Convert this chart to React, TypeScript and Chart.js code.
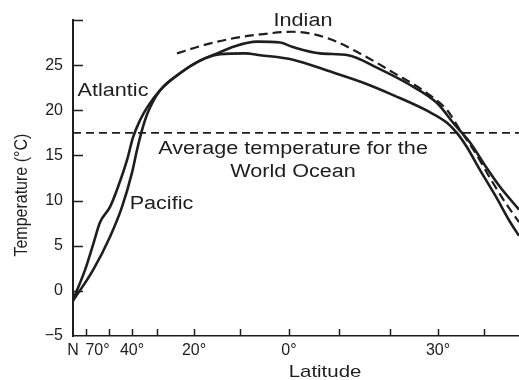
import React, { useEffect, useRef } from "react";
import { Chart, registerables } from "chart.js";

Chart.register(...registerables);

// Uneven latitude scale of the original figure: latitude knots and relative axis distance
const LAT_KNOTS = [90, 80, 60, 40, 30, 20, 10, 0, -10, -20, -30, -40, -50];
const LAT_AXIS_UNITS = [0, 13, 36, 59, 84, 121, 167, 216, 266, 317, 365, 411, 457];
const LAT_START = 90;
const LAT_END = -47.6;

const X_TICK_MARKS = [80, 60, 40, 30, 20, 10, 0, -10, -20, -30, -40];
const X_LABEL_LATS = [90, 70, 40, 20, 0, -30];
const X_LABELS = ["N", "70°", "40°", "20°", "0°", "30°"];

const Y_MIN = -5;
const Y_MAX = 30;
const Y_STEP = 5;

const ATLANTIC_LAT = [90, 80.8, 73.9, 67.8, 59.1, 52.2, 44.3, 39.6, 36.8, 34, 29.2, 23.8, 18.7, 14.3, 9.0, 5.9, -0.8, -7.6, -14.5, -21.0, -27.9, -32.0, -34.1, -36.3, -39.1, -42.4, -45.7, -47.6];
const ATLANTIC_TEMP = [-1.0, 2.3, 5.1, 7.6, 9.3, 11.5, 14.5, 17.0, 18.9, 20.3, 22.2, 24.1, 25.5, 26.2, 26.3, 26.1, 25.6, 24.4, 23.1, 21.6, 19.9, 18.6, 17.5, 15.9, 13.4, 10.6, 7.6, 6.1];

const PACIFIC_LAT = [90, 73.9, 59.1, 48.7, 40, 38, 36, 33.6, 29.2, 23.8, 18.7, 15.4, 11.1, 6.5, 1.8, -0.8, -6.2, -11.8, -17.5, -24.2, -29.8, -33.3, -37.0, -40.2, -43.5, -47.6];
const PACIFIC_TEMP = [-1.1, 2.3, 6.0, 9.3, 13.1, 15.6, 17.8, 19.8, 22.2, 24.1, 25.5, 26.2, 27.1, 27.6, 27.5, 27.0, 26.3, 26.1, 24.7, 22.8, 20.8, 18.6, 16.4, 13.9, 11.5, 9.0];

const INDIAN_LAT = [24.6, 18.7, 12.2, 5.9, -0.8, -7.6, -14.1, -20.6, -27.7, -32.0, -34.8, -38.0, -41.3, -44.6, -47.6];
const INDIAN_TEMP = [26.3, 27.1, 27.9, 28.4, 28.7, 28.0, 26.3, 24.2, 21.9, 20.0, 17.8, 15.4, 12.5, 9.8, 7.6];

const WORLD_AVERAGE_TEMP = 17.5;

const NOTE_TEXTS = ["Indian", "Atlantic", "Pacific", "Average temperature for the", "World Ocean"];
const NOTE_LATS = [-2.8, 56.5, 28.8, -0.8, -0.8];
const NOTE_TEMPS = [29.3, 21.6, 9.1, 15.2, 12.6];

const X_TITLE = "Latitude";
const X_TITLE_LAT = -7.2;
const Y_TITLE = "Temperature (°C)";
const Y_TITLE_TEMP = 10.6;

const FONT = '"Liberation Sans", Arial, Helvetica, sans-serif';
const INK = "#1e1e1e";
const TEXT_STRETCH = 1.2;

function warp(lat: number): number {
  const n = LAT_KNOTS.length;
  for (let i = 0; i < n - 1; i++) {
    const a = LAT_KNOTS[i];
    const b = LAT_KNOTS[i + 1];
    if (lat <= a && lat >= b) {
      const t = (a - lat) / (a - b);
      return LAT_AXIS_UNITS[i] + t * (LAT_AXIS_UNITS[i + 1] - LAT_AXIS_UNITS[i]);
    }
  }
  if (lat > LAT_KNOTS[0]) return LAT_AXIS_UNITS[0];
  const a = LAT_KNOTS[n - 2], b = LAT_KNOTS[n - 1];
  const t = (a - lat) / (a - b);
  return LAT_AXIS_UNITS[n - 2] + t * (LAT_AXIS_UNITS[n - 1] - LAT_AXIS_UNITS[n - 2]);
}

function toPoints(lats: number[], temps: number[]) {
  return lats.map((lat, i) => ({ x: warp(lat), y: temps[i] }));
}

const overlayPlugin = {
  id: "figureOverlay",
  afterDraw(chart: any) {
    const { ctx, chartArea } = chart;
    const xs = chart.scales.x;
    const ys = chart.scales.y;
    ctx.save();
    ctx.strokeStyle = INK;
    ctx.lineWidth = 1.5;
    // inward tick marks on y axis
    for (let v = Y_MIN + Y_STEP; v <= Y_MAX; v += Y_STEP) {
      const y = Math.round(ys.getPixelForValue(v)) + 0.5;
      ctx.beginPath();
      ctx.moveTo(chartArea.left, y);
      ctx.lineTo(chartArea.left + 10, y);
      ctx.stroke();
    }
    // inward tick marks on x axis
    for (const lat of X_TICK_MARKS) {
      const x = Math.round(xs.getPixelForValue(warp(lat))) + 0.5;
      ctx.beginPath();
      ctx.moveTo(x, chartArea.bottom);
      ctx.lineTo(x, chartArea.bottom - 7);
      ctx.stroke();
    }
    ctx.fillStyle = INK;
    ctx.textAlign = "center";
    ctx.textBaseline = "alphabetic";
    ctx.font = `18px ${FONT}`;
    NOTE_TEXTS.forEach((txt, i) => {
      const x = xs.getPixelForValue(warp(NOTE_LATS[i]));
      const y = ys.getPixelForValue(NOTE_TEMPS[i]);
      ctx.save();
      ctx.translate(x, y);
      ctx.scale(TEXT_STRETCH, 1);
      ctx.fillText(txt, 0, 0);
      ctx.restore();
    });
    // x axis title
    ctx.font = `17px ${FONT}`;
    ctx.save();
    ctx.translate(xs.getPixelForValue(warp(X_TITLE_LAT)), chart.height - 3);
    ctx.scale(TEXT_STRETCH, 1);
    ctx.fillText(X_TITLE, 0, 0);
    ctx.restore();
    // y axis title
    ctx.font = `16px ${FONT}`;
    ctx.save();
    ctx.translate(27, ys.getPixelForValue(Y_TITLE_TEMP));
    ctx.rotate(-Math.PI / 2);
    ctx.scale(1, TEXT_STRETCH);
    ctx.fillText(Y_TITLE, 0, 0);
    ctx.restore();
    ctx.restore();
  },
};

export default function App() {
  const canvasRef = useRef<HTMLCanvasElement | null>(null);

  useEffect(() => {
    document.body.style.margin = "0";
    const canvas = canvasRef.current;
    if (!canvas) return;
    const solid = {
      borderColor: INK,
      borderWidth: 2.6,
      pointRadius: 0,
      fill: false,
      cubicInterpolationMode: "monotone" as const,
    };
    const chart = new Chart(canvas, {
      type: "line",
      data: {
        datasets: [
          { label: "Atlantic", data: toPoints(ATLANTIC_LAT, ATLANTIC_TEMP), ...solid },
          { label: "Pacific", data: toPoints(PACIFIC_LAT, PACIFIC_TEMP), ...solid },
          {
            label: "Indian",
            data: toPoints(INDIAN_LAT, INDIAN_TEMP),
            ...solid,
            borderWidth: 2.2,
            borderDash: [9, 5],
          },
          {
            label: "World Ocean average",
            data: [
              { x: warp(LAT_START), y: WORLD_AVERAGE_TEMP },
              { x: warp(LAT_END), y: WORLD_AVERAGE_TEMP },
            ],
            borderColor: INK,
            borderWidth: 1.6,
            borderDash: [8, 5],
            pointRadius: 0,
            fill: false,
          },
        ],
      },
      options: {
        animation: false,
        responsive: true,
        maintainAspectRatio: false,
        layout: { padding: { top: 20, right: 0, left: 0, bottom: 0 } },
        plugins: {
          legend: { display: false },
          tooltip: { enabled: false },
        },
        scales: {
          x: {
            type: "linear",
            min: warp(LAT_START),
            max: warp(LAT_END),
            afterFit: (scale: any) => {
              scale.height = 44;
            },
            afterBuildTicks: (scale: any) => {
              scale.ticks = X_LABEL_LATS.map((lat) => ({ value: warp(lat) }));
            },
            ticks: {
              autoSkip: false,
              maxRotation: 0,
              padding: 5,
              color: INK,
              font: { family: FONT, size: 16 },
              callback: (_v: any, i: number) => X_LABELS[i],
            },
            grid: { display: true, drawOnChartArea: false, drawTicks: false },
            border: { display: true, color: INK, width: 1.6 },
          },
          y: {
            type: "linear",
            min: Y_MIN,
            max: Y_MAX,
            afterFit: (scale: any) => {
              scale.width = 73;
            },
            afterBuildTicks: (scale: any) => {
              const t = [];
              for (let v = Y_MIN; v < Y_MAX; v += Y_STEP) t.push({ value: v });
              scale.ticks = t;
            },
            ticks: {
              padding: 10,
              color: INK,
              font: { family: FONT, size: 16 },
              callback: (v: any) => (v < 0 ? "\u2212" + Math.abs(v) : String(v)),
            },
            grid: { display: true, drawOnChartArea: false, drawTicks: false },
            border: { display: true, color: INK, width: 2 },
          },
        },
      },
      plugins: [overlayPlugin],
    });
    return () => chart.destroy();
  }, []);

  return (
    <div style={{ width: 519, height: 380, position: "relative" }}>
      <canvas ref={canvasRef} />
    </div>
  );
}
